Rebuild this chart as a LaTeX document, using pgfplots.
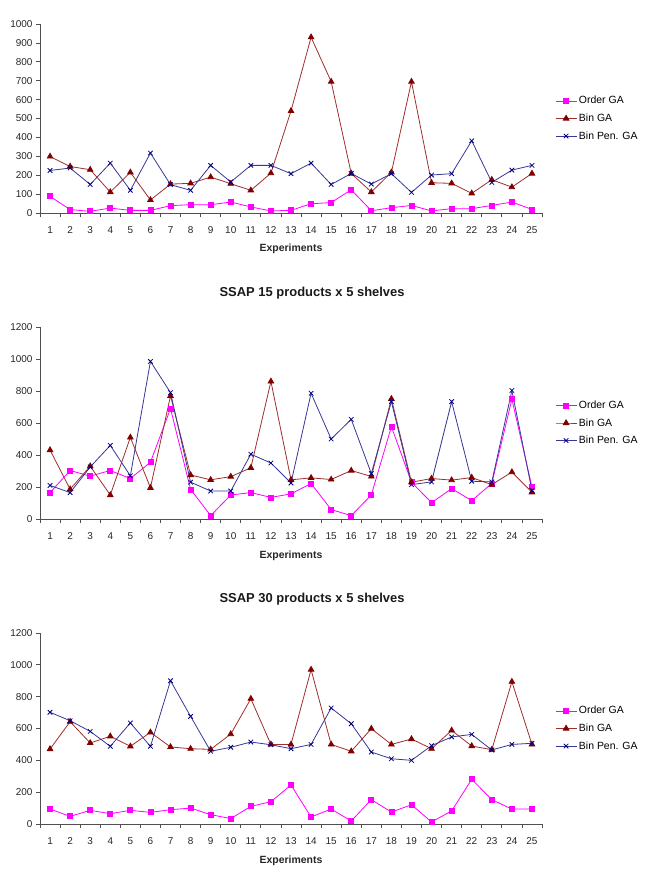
\documentclass[border=0pt]{standalone}
\usepackage{pgfplots}
\pgfplotsset{compat=1.18}
\usepackage{fontspec}
\setmainfont{Liberation Sans}
\definecolor{ordc}{RGB}{255,0,255}
\definecolor{binl}{RGB}{160,45,45}
\definecolor{binm}{RGB}{128,0,0}
\definecolor{penl}{RGB}{55,55,150}
\definecolor{penm}{RGB}{0,0,128}
\definecolor{axc}{RGB}{80,80,80}

\pgfplotsset{
 ssap/.style={
  scale only axis, width=502bp,
  xmin=0.5, xmax=25.5, ymin=0,
  axis lines*=left,
  axis line style={axc, line width=0.8bp},
  xtick={1,...,25},
  minor xtick={0.5,1.5,...,25.5},
  tick align=outside,
  major x tick style={draw=none},
  minor tick length=4bp, major tick length=4bp,
  tick style={axc, line width=0.8bp},
  ticklabel style={font=\fontsize{10}{12}\selectfont, text=black!85},
  xticklabel style={yshift=-6.5bp},
  /pgf/number format/assume math mode=true,
  /pgf/number format/1000 sep={},
  xlabel={Experiments},
  xlabel style={font=\bfseries\fontsize{10.5}{12}\selectfont, text=black!85, at={(axis description cs:0.5,-0.19)}, anchor=center},
  every axis title shift=0pt,
  title style={font=\bfseries\fontsize{13}{15}\selectfont, text=black!90, at={(axis description cs:0.542,1.177)}, anchor=center},
  legend style={draw=none, fill=none, at={(axis description cs:1,0.5)}, anchor=west, xshift=13bp,
     font=\fontsize{10.5}{12}\selectfont, row sep=4.5bp, inner sep=0pt},
  legend cell align=left,
  legend image code/.code={\draw[mark repeat=2,mark phase=2] plot coordinates {(0bp,0bp) (10.5bp,0bp) (21bp,0bp)};},
 },
 ord/.style={color=ordc, line width=0.8bp, mark=square*, mark size=2.5bp, mark options={fill=ordc, draw=ordc}},
 bin/.style={color=binl, line width=0.8bp, mark=triangle*, mark size=3.2bp, mark options={fill=binm, draw=binm}},
 pen/.style={color=penl, line width=0.8bp, mark=x, mark size=3.2bp, mark options={draw=penm}},
}

\begin{document}
\begin{tikzpicture}
\path[use as bounding box] (0bp,0bp) rectangle (645bp,-875bp);

% Plot 1
\begin{axis}[ssap, at={(40bp,-213bp)}, anchor=south west, height=189bp,
  ymax=1000, ytick distance=100]
\addplot[ord] coordinates {(1,88) (2,18) (3,9) (4,26) (5,14) (6,14) (7,39) (8,44) (9,44) (10,58) (11,32) (12,11) (13,14) (14,49) (15,55) (16,123) (17,12) (18,28) (19,40) (20,11) (21,23) (22,23) (23,40) (24,58) (25,19)};
\addplot[bin] coordinates {(1,299) (2,246) (3,229) (4,111) (5,215) (6,69) (7,153) (8,157) (9,190) (10,155) (11,120) (12,211) (13,540) (14,930) (15,695) (16,209) (17,111) (18,215) (19,695) (20,160) (21,157) (22,104) (23,176) (24,137) (25,209)};
\addplot[pen] coordinates {(1,225) (2,238) (3,151) (4,264) (5,120) (6,317) (7,150) (8,120) (9,252) (10,164) (11,252) (12,252) (13,208) (14,264) (15,151) (16,209) (17,153) (18,208) (19,109) (20,201) (21,208) (22,382) (23,162) (24,227) (25,252)};
\legend{Order GA, Bin GA, Bin Pen. GA}
\end{axis}

% Plot 2
\begin{axis}[ssap, at={(40bp,-519bp)}, anchor=south west, height=192bp,
  ymax=1200, ytick distance=200, title={SSAP 15 products x 5 shelves}]
\addplot[ord] coordinates {(1,165) (2,303) (3,268) (4,303) (5,253) (6,355) (7,690) (8,185) (9,21) (10,150) (11,165) (12,135) (13,157) (14,222) (15,59) (16,21) (17,150) (18,577) (19,230) (20,102) (21,190) (22,115) (23,222) (24,749) (25,200)};
\addplot[bin] coordinates {(1,431) (2,186) (3,330) (4,150) (5,510) (6,195) (7,770) (8,275) (9,245) (10,265) (11,320) (12,860) (13,245) (14,257) (15,247) (16,303) (17,266) (18,751) (19,230) (20,253) (21,243) (22,259) (23,215) (24,293) (25,167)};
\addplot[pen] coordinates {(1,210) (2,165) (3,325) (4,460) (5,270) (6,985) (7,790) (8,230) (9,175) (10,175) (11,405) (12,350) (13,225) (14,786) (15,500) (16,623) (17,284) (18,734) (19,215) (20,232) (21,734) (22,236) (23,232) (24,803) (25,178)};
\legend{Order GA, Bin GA, Bin Pen. GA}
\end{axis}

% Plot 3
\begin{axis}[ssap, at={(40bp,-824bp)}, anchor=south west, height=191bp,
  ymax=1200, ytick distance=200, title={SSAP 30 products x 5 shelves}]
\addplot[ord] coordinates {(1,94) (2,48) (3,86) (4,65) (5,86) (6,73) (7,90) (8,100) (9,59) (10,34) (11,111) (12,140) (13,245) (14,44) (15,94) (16,19) (17,153) (18,75) (19,121) (20,13) (21,82) (22,281) (23,153) (24,94) (25,94)};
\addplot[bin] coordinates {(1,471) (2,643) (3,509) (4,551) (5,488) (6,576) (7,484) (8,473) (9,469) (10,565) (11,787) (12,500) (13,500) (14,970) (15,500) (16,457) (17,599) (18,500) (19,534) (20,473) (21,588) (22,490) (23,467) (24,894) (25,500)};
\addplot[pen] coordinates {(1,702) (2,649) (3,582) (4,488) (5,635) (6,488) (7,900) (8,676) (9,457) (10,482) (11,515) (12,498) (13,473) (14,500) (15,729) (16,630) (17,452) (18,410) (19,400) (20,492) (21,547) (22,563) (23,465) (24,500) (25,507)};
\legend{Order GA, Bin GA, Bin Pen. GA}
\end{axis}
\end{tikzpicture}
\end{document}
